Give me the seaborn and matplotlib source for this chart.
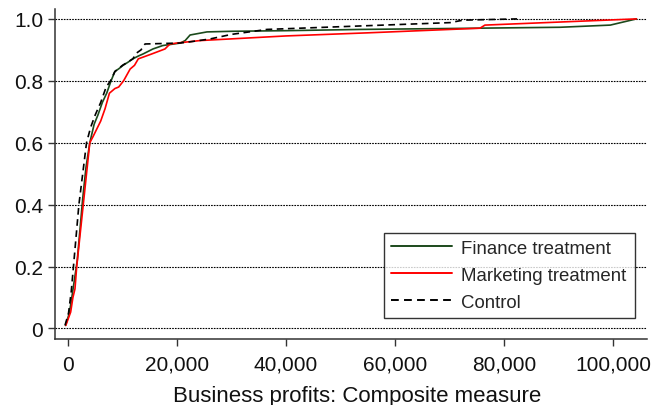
import matplotlib
matplotlib.use("Agg")
import matplotlib.pyplot as plt
import matplotlib.ticker as mticker
import numpy as np
import pandas as pd
import seaborn as sns

# Cumulative distribution of business profits by treatment group
finance_x = [-450, 250, 700, 1200, 1700, 2200, 2700, 3300, 4000, 4800, 5500,
             6300, 7100, 7900, 8600, 9400, 10100, 11000, 11900, 12900, 13800,
             15600, 17400, 19000, 20600, 21500, 22400, 25500, 30000, 40000,
             53600, 70000, 90300, 99500, 104300]
finance_y = [0.01, 0.05, 0.10, 0.16, 0.22, 0.32, 0.42, 0.52, 0.60, 0.66, 0.69,
             0.73, 0.76, 0.80, 0.83, 0.84, 0.85, 0.86, 0.871, 0.88, 0.887,
             0.903, 0.914, 0.918, 0.922, 0.93, 0.948, 0.958, 0.960, 0.962,
             0.966, 0.969, 0.973, 0.980, 1.0]

marketing_x = [-400, 490, 900, 1280, 1600, 2200, 2800, 3400, 4000, 4600, 5300,
               6000, 6800, 7600, 8600, 9300, 10200, 11400, 12200, 12900, 14000,
               15400, 16600, 17800, 18700, 20000, 24200, 40000, 55000, 75600,
               76500, 104300]
marketing_y = [0.01, 0.053, 0.10, 0.128, 0.20, 0.30, 0.40, 0.50, 0.60, 0.62,
               0.645, 0.67, 0.71, 0.76, 0.775, 0.78, 0.80, 0.838, 0.85, 0.871,
               0.878, 0.887, 0.895, 0.903, 0.919, 0.922, 0.93, 0.945, 0.955,
               0.97, 0.98, 1.0]

control_x = [-550, 100, 600, 1000, 1500, 2000, 2700, 3400, 4160, 5000, 6000,
             7000, 7800, 8600, 10000, 11900, 12600, 13400, 14130, 20500, 22000,
             26000, 30000, 36500, 54800, 70100, 72500, 82400]
control_y = [0.01, 0.05, 0.12, 0.20, 0.30, 0.40, 0.50, 0.60, 0.65, 0.69, 0.73,
             0.78, 0.80, 0.83, 0.85, 0.871, 0.89, 0.90, 0.919, 0.922, 0.925,
             0.935, 0.950, 0.966, 0.978, 0.988, 0.996, 1.0]

groups = ["Finance treatment", "Marketing treatment", "Control"]
colors = {"Finance treatment": "#1c4a1c",
          "Marketing treatment": "#ff0000",
          "Control": "#000000"}

x_ticks = [0, 20000, 40000, 60000, 80000, 100000]
y_ticks = [0, 0.2, 0.4, 0.6, 0.8, 1.0]
y_tick_labels = ["0", "0.2", "0.4", "0.6", "0.8", "1.0"]

df = pd.concat([
    pd.DataFrame({"profit": finance_x, "share": finance_y, "group": groups[0]}),
    pd.DataFrame({"profit": marketing_x, "share": marketing_y, "group": groups[1]}),
    pd.DataFrame({"profit": control_x, "share": control_y, "group": groups[2]}),
], ignore_index=True)

sns.set_style("white")
plt.rcParams["font.family"] = ["Liberation Sans", "DejaVu Sans"]

fig = plt.figure(figsize=(6.57, 4.06), dpi=100)
ax = fig.add_axes([55 / 657, 66 / 406, 592 / 657, 330 / 406])

sns.lineplot(data=df, x="profit", y="share", hue="group", style="group",
             hue_order=groups, style_order=groups, palette=colors,
             dashes={"Finance treatment": "", "Marketing treatment": "",
                     "Control": (4, 2.7)},
             estimator=None, sort=False, linewidth=1.2, ax=ax, legend=True)

ax.set_xlim(-2385, 106240)
ax.set_ylim(-0.034, 1.032)

for y in y_ticks:
    ax.axhline(y, color="black", lw=0.8, linestyle=(0, (1.5, 1.0)), zorder=0)

ax.set_xticks(x_ticks)
ax.xaxis.set_major_formatter(mticker.FuncFormatter(lambda v, p: f"{int(v):,}"))
ax.set_yticks(y_ticks)
ax.set_yticklabels(y_tick_labels)
ax.tick_params(axis="both", which="major", direction="out", length=5,
               width=1.0, color="#333333", labelsize=15, pad=6.2, left=True,
               bottom=True, labelcolor="#111111")
ax.tick_params(axis="y", pad=3.6)

for side in ["top", "right"]:
    ax.spines[side].set_visible(False)
for side in ["left", "bottom"]:
    ax.spines[side].set_color("#333333")
    ax.spines[side].set_linewidth(1.1)

ax.set_xlabel("Business profits: Composite measure", fontsize=16,
              labelpad=8, color="#111111")
ax.xaxis.label.set_x(0.511)
ax.set_ylabel("")

leg = ax.legend(loc="lower left", bbox_to_anchor=(0.556, 0.0636, 0.424, 0.27),
                mode="expand", borderaxespad=0, fontsize=13.4, frameon=True,
                fancybox=False, edgecolor="black", handlelength=3.28,
                handletextpad=0.48, labelspacing=0.54, borderpad=0.38,
                title=None)
leg.get_frame().set_linewidth(1.0)
for h in leg.get_lines():
    h.set_linewidth(1.4)

fig.savefig("out.png", dpi=100, facecolor="white")
